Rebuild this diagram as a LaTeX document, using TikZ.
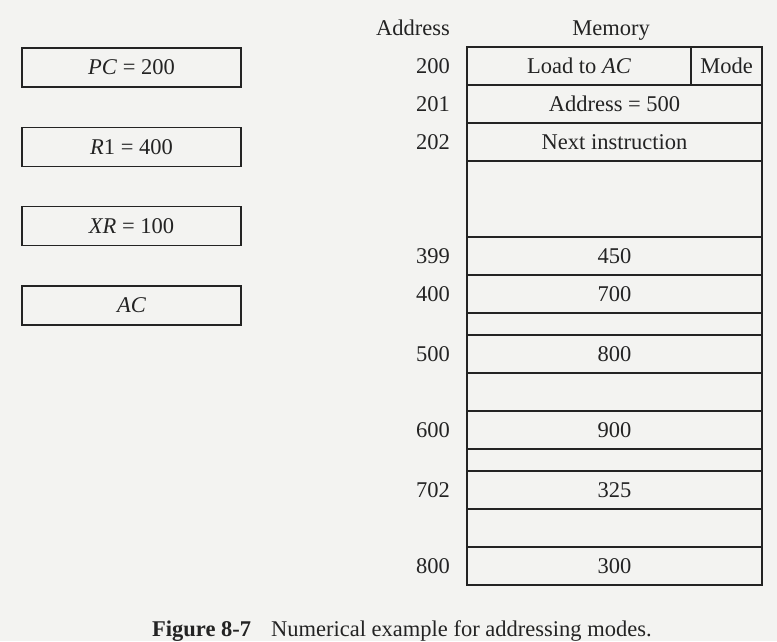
\documentclass[tikz,border=0pt]{standalone}
\usepackage{fontspec}
\setmainfont{Liberation Serif}
\usetikzlibrary{positioning}
\definecolor{paper}{RGB}{243,243,241}
\definecolor{ink}{RGB}{35,35,35}

\begin{document}
\begin{tikzpicture}[
    x=1pt, y=-1pt,
    every node/.style={font=\fontsize{22.5}{26}\selectfont, text=ink},
    reg/.style={draw=ink, line width=1.3pt, minimum width=219pt, minimum height=39pt, inner sep=0pt},
    cell/.style={draw=ink, line width=1.3pt, minimum width=295pt, minimum height=38pt, inner sep=0pt, outer sep=0pt},
    addr/.style={inner sep=0pt}
  ]
  \fill[paper] (0,0) rectangle (777,641);
  \useasboundingbox (0,0) rectangle (777,641);

  % registers
  \node[reg] (pc) at (131.5,67.5) {\textit{PC} = 200};
  \node[reg, below=39pt of pc] (r1) {\textit{R}1 = 400};
  \node[reg, below=39pt of r1] (xr) {\textit{XR} = 100};
  \node[reg, below=39pt of xr] (ac) {\textit{AC}};

  % memory
  \node[cell, minimum width=224pt, anchor=north west] (load) at (467,47) {Load to \textit{AC}};
  \node[cell, minimum width=71pt, right=0pt of load] (mode) {Mode};
  \node[cell, below right=0pt and 0pt of load.south west] (m201) {Address = 500};
  \node[cell, below=0pt of m201] (m202) {Next instruction};
  \node[cell, minimum height=76pt, below=0pt of m202] (gapa) {};
  \node[cell, below=0pt of gapa] (m399) {450};
  \node[cell, below=0pt of m399] (m400) {700};
  \node[cell, minimum height=22pt, below=0pt of m400] (gapb) {};
  \node[cell, below=0pt of gapb] (m500) {800};
  \node[cell, below=0pt of m500] (gapc) {};
  \node[cell, below=0pt of gapc] (m600) {900};
  \node[cell, minimum height=22pt, below=0pt of m600] (gapd) {};
  \node[cell, below=0pt of gapd] (m702) {325};
  \node[cell, below=0pt of m702] (gape) {};
  \node[cell, below=0pt of gape] (m800) {300};

  % addresses
  \node[addr, left=17pt of load] (a200) {200};
  \node[addr, left=17pt of m201] (a201) {201};
  \node[addr, left=17pt of m202] (a202) {202};
  \node[addr, left=17pt of m399] (a399) {399};
  \node[addr, left=17pt of m400] (a400) {400};
  \node[addr, left=17pt of m500] (a500) {500};
  \node[addr, left=17pt of m600] (a600) {600};
  \node[addr, left=17pt of m702] (a702) {702};
  \node[addr, left=17pt of m800] (a800) {800};

  \node[anchor=base] (hdaddr) at (413,35) {Address};
  \node[anchor=base] (hdmem) at (611,35) {Memory};

  \node[anchor=base west, inner sep=0pt] (caption) at (152,636) {\textbf{Figure 8-7}\hspace{20pt}Numerical example for addressing modes.};
\end{tikzpicture}
\end{document}
